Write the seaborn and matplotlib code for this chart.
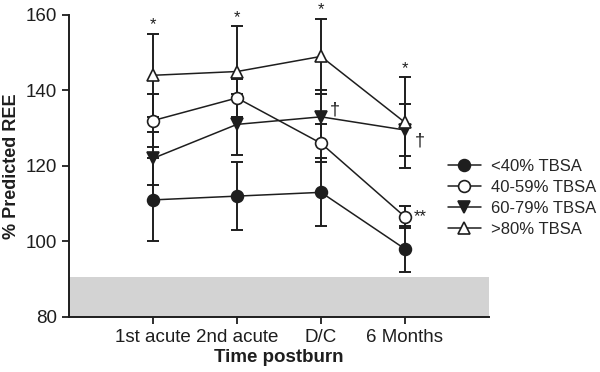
import numpy as np
import pandas as pd
import seaborn as sns
import matplotlib.pyplot as plt

# --- data ---
times = ["1st acute", "2nd acute", "D/C", "6 Months"]
groups = ["<40% TBSA", "40-59% TBSA", "60-79% TBSA", ">80% TBSA"]

ree_lt40 = [111, 112, 113, 98]
sd_lt40 = [11, 9, 9, 6]
ree_40_59 = [132, 138, 126, 106.5]
sd_40_59 = [7, 5, 5, 3]
ree_60_79 = [122, 131, 133, 129.5]
sd_60_79 = [7, 8, 7, 7]
ree_gt80 = [144, 145, 149, 131.5]
sd_gt80 = [11, 12, 10, 12]

normal_band = (80, 90.5)

means = [ree_lt40, ree_40_59, ree_60_79, ree_gt80]
sds = [sd_lt40, sd_40_59, sd_60_79, sd_gt80]

# long table for seaborn
rows = []
for g, m, s in zip(groups, means, sds):
    for i, t in enumerate(times):
        rows.append({"group": g, "time": t, "pos": i + 1, "ree": m[i], "sd": s[i]})
df = pd.DataFrame(rows)

# --- style ---
sns.set_style("ticks")
plt.rcParams["font.family"] = ["Liberation Sans", "DejaVu Sans"]
ink = "#1e1e1e"

markers = {"<40% TBSA": "o", "40-59% TBSA": "o", "60-79% TBSA": "v", ">80% TBSA": "^"}
faces = {"<40% TBSA": ink, "40-59% TBSA": "white", "60-79% TBSA": ink, ">80% TBSA": "white"}

fig = plt.figure(figsize=(6, 3.72), dpi=100)
ax = fig.add_axes([0.115, 0.148, 0.70, 0.812])

ax.axhspan(*normal_band, color="#d3d3d3", lw=0, zorder=0)

for g in groups:
    sub = df[df["group"] == g]
    ax.errorbar(sub["pos"], sub["ree"], yerr=sub["sd"], fmt="none",
                ecolor=ink, elinewidth=1.4, capsize=4, capthick=1.4, zorder=2)
    sns.lineplot(data=sub, x="pos", y="ree", ax=ax, color=ink, lw=1.1,
                 marker=markers[g], markersize=8.5, markerfacecolor=faces[g],
                 markeredgecolor=ink, markeredgewidth=1.2, label=g, zorder=3)

# significance marks
top = df[df["group"] == ">80% TBSA"]
for _, r in top.iterrows():
    ax.annotate("*", xy=(r["pos"], r["ree"] + r["sd"]), xytext=(0, 1),
                textcoords="offset points", ha="center", va="bottom", fontsize=12, color=ink)

dag = df[(df["group"] == "60-79% TBSA") & (df["pos"] >= 3)]
for _, r in dag.iterrows():
    ax.annotate("\u2020", xy=(r["pos"], r["ree"]), xytext=(6, 5) if r["pos"] == 3 else (7, -8),
                textcoords="offset points", ha="left", va="center", fontsize=13, color=ink)

r = df[(df["group"] == "40-59% TBSA") & (df["pos"] == 4)].iloc[0]
ax.annotate("**", xy=(r["pos"], r["ree"]), xytext=(6, 0), textcoords="offset points",
            ha="left", va="center", fontsize=12, color=ink)

# axes
ax.set_xlim(0, 5)
ax.set_ylim(80, 160)
ax.set_xticks(range(1, 5))
ax.set_xticklabels(times)
ax.set_yticks([80, 100, 120, 140, 160])
ax.tick_params(axis="both", labelsize=13.5, length=5, width=1.3, color=ink, labelcolor=ink)
ax.set_xlabel("Time postburn", fontsize=13.5, fontweight="bold", color=ink, labelpad=2)
ax.set_ylabel("% Predicted REE", fontsize=13, fontweight="bold", color=ink, labelpad=4)
sns.despine(ax=ax)
for sp in ("left", "bottom"):
    ax.spines[sp].set_linewidth(1.4)
    ax.spines[sp].set_color(ink)

ax.legend(loc="upper left", bbox_to_anchor=(0.735, 0.59), bbox_transform=fig.transFigure,
          frameon=False, fontsize=12, handlelength=2.0, handletextpad=0.6,
          labelspacing=0.35, borderaxespad=0)

fig.savefig("out.png", dpi=100)
